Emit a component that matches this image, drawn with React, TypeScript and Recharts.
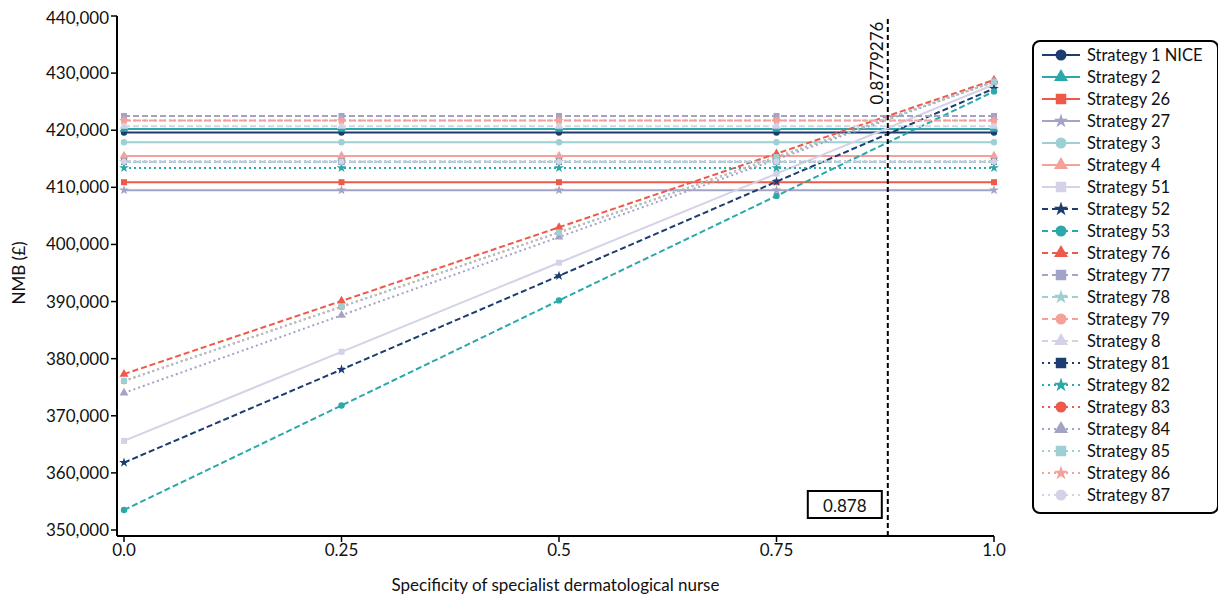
import React from 'react';
import { LineChart, Line, XAxis, YAxis, ReferenceLine, Symbols } from 'recharts';

// specificity values on the x axis
const specificity = [0, 0.25, 0.5, 0.75, 1];
const specificityLabels = ['0.0', '0.25', '0.5', '0.75', '1.0'];
const nmbTicks = [350000, 360000, 370000, 380000, 390000, 400000, 410000, 420000, 430000, 440000];
const threshold = 0.8779276;
const thresholdRounded = '0.878';

const strategyNames = [
  'Strategy 1 NICE', 'Strategy 2', 'Strategy 26', 'Strategy 27', 'Strategy 3', 'Strategy 4', 'Strategy 51',
  'Strategy 52', 'Strategy 53', 'Strategy 76', 'Strategy 77', 'Strategy 78', 'Strategy 79', 'Strategy 8',
  'Strategy 81', 'Strategy 82', 'Strategy 83', 'Strategy 84', 'Strategy 85', 'Strategy 86', 'Strategy 87',
];

// net monetary benefit per strategy at each specificity value
const s1Nice = [419600, 419600, 419600, 419600, 419600];
const s2 = [420200, 420200, 420200, 420200, 420200];
const s26 = [410900, 410900, 410900, 410900, 410900];
const s27 = [409500, 409500, 409500, 409500, 409500];
const s3 = [417900, 417900, 417900, 417900, 417900];
const s4 = [415500, 415500, 415500, 415500, 415500];
const s51 = [365600, 381200, 396800, 412400, 428000];
const s52 = [361800, 378100, 394500, 411000, 427300];
const s53 = [353500, 371800, 390200, 408500, 426800];
const s76 = [377300, 390100, 403000, 415900, 428800];
const s77 = [422500, 422500, 422500, 422500, 422500];
const s78 = [414500, 414500, 414500, 414500, 414500];
const s79 = [421700, 421700, 421700, 421700, 421700];
const s8 = [420700, 420700, 420700, 420700, 420700];
const s81 = [414500, 414500, 414500, 414500, 414500];
const s82 = [413400, 413400, 413400, 413400, 413400];
const s83 = [376100, 389100, 402100, 415300, 428500];
const s84 = [374000, 387600, 401300, 414900, 428500];
const s85 = [376100, 389100, 402100, 415300, 428500];
const s86 = [421700, 421700, 421700, 421700, 421700];
const s87 = [414500, 414500, 414500, 414500, 414500];

const strategyValues = [
  s1Nice, s2, s26, s27, s3, s4, s51, s52, s53, s76, s77, s78, s79, s8, s81, s82, s83, s84, s85, s86, s87,
];

const palette = ['#1d3d70', '#2ba8aa', '#ee5a4a', '#a3a3c7', '#9dcfd3', '#f4a199', '#d3d2e6'];
const shapes = ['circle', 'triangle', 'square', 'star'] as const;
const dashFor = (i: number) => (i < 7 ? undefined : i < 14 ? '6 3' : '2 3');

// marker areas for the plot and the legend
const plotSize: Record<string, number> = { circle: 32, triangle: 34, square: 36, star: 30 };
const legendSize: Record<string, number> = { circle: 95, triangle: 85, square: 110, star: 65 };

const styles = strategyNames.map((name, i) => ({
  name,
  key: `s${i}`,
  color: palette[i % 7],
  shape: shapes[i % 4],
  dash: dashFor(i),
}));

const rows = specificity.map((x, j) => {
  const row: Record<string, number> = { x };
  strategyValues.forEach((vals, i) => {
    row[`s${i}`] = vals[j];
  });
  return row;
});

const formatNmb = (v: number) => v.toLocaleString('en-GB');
const formatSpec = (v: number) => specificityLabels[specificity.indexOf(v)] ?? String(v);

const makeDot = (shape: any, color: string) => (props: any) => {
  const { cx, cy, index } = props;
  if (cx == null || cy == null) return <g key={index} />;
  return <Symbols key={index} cx={cx} cy={cy} type={shape} size={plotSize[shape]} fill={color} />;
};

const ThresholdLabel = (props: any) => {
  const vb = props.viewBox || {};
  const x = vb.x ?? 880;
  const top = vb.y ?? 8;
  const bottom = top + (vb.height ?? 520);
  return (
    <g>
      <text
        transform={`translate(${x - 11}, ${top + 47}) rotate(-90)`}
        textAnchor="middle"
        dominantBaseline="central"
        fontSize={17}
        fill="#111"
      >
        {String(threshold)}
      </text>
      <rect x={x - 80} y={bottom - 45} width={74} height={27} fill="#fff" stroke="#000" strokeWidth={2} />
      <text x={x - 43} y={bottom - 31} textAnchor="middle" dominantBaseline="central" fontSize={17} fill="#111">
        {thresholdRounded}
      </text>
    </g>
  );
};

const StrategyLegend = () => (
  <div
    style={{
      position: 'absolute',
      left: 1024,
      top: 32,
      width: 183,
      height: 468,
      border: '2px solid #000',
      borderRadius: 8,
      paddingTop: 2,
      boxSizing: 'content-box',
      background: '#fff',
    }}
  >
    {styles.map((s) => (
      <div key={s.key} style={{ display: 'flex', alignItems: 'center', height: 22 }}>
        <svg width={50} height={22} style={{ display: 'block' }}>
          <line
            x1={8}
            y1={11}
            x2={46}
            y2={11}
            stroke={s.color}
            strokeWidth={2}
            strokeDasharray={s.dash === '2 3' ? '2 4' : s.dash === '6 3' ? '6 4' : undefined}
          />
          <Symbols cx={27} cy={11} type={s.shape} size={legendSize[s.shape]} fill={s.color} />
        </svg>
        <span style={{ fontSize: 16.5, color: '#111', marginLeft: 3, whiteSpace: 'nowrap' }}>{s.name}</span>
      </div>
    ))}
  </div>
);

export default function App() {
  return (
    <div style={{ position: 'relative', width: 1210, height: 590, fontFamily: 'Lato, sans-serif' }}>
      <LineChart width={1210} height={590} data={rows} margin={{ top: 8, right: 224, bottom: 7, left: 0 }}>
        <XAxis
          dataKey="x"
          type="number"
          domain={[0, 1]}
          ticks={specificity}
          tickFormatter={formatSpec}
          padding={{ left: 7, right: 0 }}
          height={55}
          tick={{ fill: '#111', fontSize: 17 }}
          tickSize={6}
          tickMargin={2}
          axisLine={{ stroke: '#000', strokeWidth: 2 }}
          tickLine={{ stroke: '#000', strokeWidth: 1.5 }}
          label={{ value: 'Specificity of specialist dermatological nurse', position: 'insideBottom', offset: 0, fill: '#111', fontSize: 17 }}
        />
        <YAxis
          type="number"
          domain={[350000, 440000]}
          ticks={nmbTicks}
          tickFormatter={formatNmb}
          padding={{ top: 0, bottom: 6 }}
          width={109}
          tick={{ fill: '#111', fontSize: 17 }}
          tickSize={6}
          tickMargin={2}
          axisLine={{ stroke: '#000', strokeWidth: 2 }}
          tickLine={{ stroke: '#000', strokeWidth: 1.5 }}
          label={{
            content: () => (
              <text transform="translate(10, 265) rotate(-90)" textAnchor="middle" dominantBaseline="central" fontSize={17} fill="#111">
                NMB (£)
              </text>
            ),
          }}
        />
        {styles.map((s) => (
          <Line
            key={s.key}
            type="linear"
            dataKey={s.key}
            name={s.name}
            stroke={s.color}
            strokeWidth={2}
            strokeDasharray={s.dash}
            dot={makeDot(s.shape, s.color)}
            activeDot={false}
            isAnimationActive={false}
          />
        ))}
        <ReferenceLine
          x={threshold}
          stroke="#000"
          strokeWidth={2}
          strokeDasharray="5 3"
          label={<ThresholdLabel />}
        />
      </LineChart>
      <StrategyLegend />
    </div>
  );
}
